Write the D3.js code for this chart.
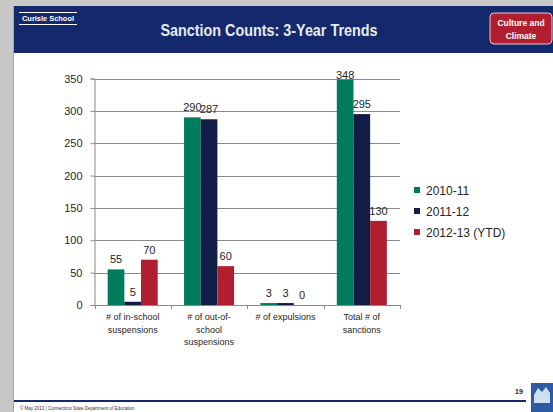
<!DOCTYPE html>
<html>
<head>
	<meta charset="UTF-8">
	<title>Sanction Counts: 3-Year Trends</title>
	<script src="https://cdn.jsdelivr.net/npm/d3@7"></script>
	<style>
		body {
			padding: 0;
			margin: 0;
			background: #c8c8c8;
		}
		text {
			font-family: "Liberation Sans", Arial, sans-serif;
		}
	</style>
</head>
<body>
	<script>
		// chart data
		var categories = [
			["# of in-school", "suspensions"],
			["# of out-of-", "school", "suspensions"],
			["# of expulsions"],
			["Total # of", "sanctions"]
		];
		var series = ["2010-11", "2011-12", "2012-13 (YTD)"];
		var values2010 = [55, 290, 3, 348];
		var values2011 = [5, 287, 3, 295];
		var values2012 = [70, 60, 0, 130];
		var yTicks = [0, 50, 100, 150, 200, 250, 300, 350];
		var colors = ["#007b5b", "#121d47", "#b01e2f"];

		var allValues = [values2010, values2011, values2012];

		var w = 553,
			h = 412;

		var svg = d3.select("body").append("svg")
			.attr("width", w)
			.attr("height", h);

		// slide background
		svg.append("rect")
			.attr("x", 0).attr("y", 0)
			.attr("width", w).attr("height", h)
			.attr("fill", "#c8c8c8");
		svg.append("rect")
			.attr("x", 14).attr("y", 6)
			.attr("width", w - 14).attr("height", h - 6)
			.attr("fill", "#ffffff");
		svg.append("line")
			.attr("x1", 13.5).attr("x2", 13.5)
			.attr("y1", 6).attr("y2", h)
			.attr("stroke", "#a8a8a8");

		// header band
		svg.append("rect")
			.attr("x", 14).attr("y", 6)
			.attr("width", w - 14).attr("height", 47)
			.attr("fill", "#13296b");

		svg.append("text")
			.attr("x", 269).attr("y", 36)
			.attr("text-anchor", "middle")
			.attr("font-size", 16)
			.attr("font-weight", "bold")
			.attr("fill", "#e8e9f0")
			.attr("textLength", 217)
			.attr("lengthAdjust", "spacingAndGlyphs")
			.text("Sanction Counts: 3-Year Trends");

		// school name with rules
		[12.5, 24.5].forEach(function (yy) {
			svg.append("line")
				.attr("x1", 19).attr("x2", 77)
				.attr("y1", yy).attr("y2", yy)
				.attr("stroke", "#ffffff").attr("stroke-width", 1);
		});
		svg.append("text")
			.attr("x", 48).attr("y", 21)
			.attr("text-anchor", "middle")
			.attr("font-size", 7.5)
			.attr("font-weight", "bold")
			.attr("fill", "#ffffff")
			.attr("textLength", 52)
			.attr("lengthAdjust", "spacingAndGlyphs")
			.text("Curisle School");

		// red badge
		svg.append("rect")
			.attr("x", 490).attr("y", 13)
			.attr("width", 62).attr("height", 31)
			.attr("rx", 4)
			.attr("fill", "#b01e2f")
			.attr("stroke", "#e9c7cc").attr("stroke-width", 1);
		svg.append("text")
			.attr("x", 521).attr("y", 26)
			.attr("text-anchor", "middle")
			.attr("font-size", 8.5).attr("font-weight", "bold")
			.attr("fill", "#ffffff")
			.text("Culture and");
		svg.append("text")
			.attr("x", 521).attr("y", 39)
			.attr("text-anchor", "middle")
			.attr("font-size", 8.5).attr("font-weight", "bold")
			.attr("fill", "#ffffff")
			.text("Climate");

		// chart area
		var plotLeft = 94.5, plotRight = 400, plotTop = 78.5, plotBottom = 305;

		var x0 = d3.scaleBand()
			.domain(d3.range(categories.length))
			.range([plotLeft, plotRight])
			.padding(0);

		var x1 = d3.scaleBand()
			.domain(series)
			.range([0, x0.bandwidth()])
			.paddingInner(0)
			.paddingOuter(0.79);

		var y = d3.scaleLinear()
			.domain([0, 350])
			.range([plotBottom, plotTop]);

		// gridlines
		svg.append("g")
			.selectAll("line")
			.data(yTicks.slice(1))
			.join("line")
			.attr("x1", plotLeft).attr("x2", plotRight)
			.attr("y1", function (d) { return Math.round(y(d)) + 0.5; })
			.attr("y2", function (d) { return Math.round(y(d)) + 0.5; })
			.attr("stroke", "#8a8a8a");

		// y axis
		var yAxis = svg.append("g")
			.attr("transform", "translate(" + plotLeft + ",0)")
			.call(d3.axisLeft(y).tickValues(yTicks).tickSize(4).tickPadding(8));
		yAxis.select(".domain").attr("stroke", "#8a8a8a");
		yAxis.selectAll(".tick line").attr("stroke", "#8a8a8a");
		yAxis.selectAll(".tick text")
			.attr("font-family", "Liberation Sans, Arial, sans-serif")
			.attr("font-size", 11)
			.attr("fill", "#262626");

		// bars
		series.forEach(function (s, si) {
			var g = svg.append("g");
			g.selectAll("rect")
				.data(allValues[si])
				.join("rect")
				.attr("x", function (d, i) { return x0(i) + x1(s); })
				.attr("y", function (d) { return y(d); })
				.attr("width", x1.bandwidth())
				.attr("height", function (d) { return plotBottom - y(d); })
				.attr("fill", colors[si]);

			// labels above bars, kept inside the plot top like the original
			g.selectAll("text")
				.data(allValues[si])
				.join("text")
				.attr("x", function (d, i) { return x0(i) + x1(s) + x1.bandwidth() / 2; })
				.attr("y", function (d) { return Math.max(y(d) - 6, plotTop); })
				.attr("text-anchor", "middle")
				.attr("font-size", 11)
				.attr("fill", "#262626")
				.text(function (d) { return d; });
		});

		// x axis
		svg.append("line")
			.attr("x1", plotLeft).attr("x2", plotRight)
			.attr("y1", plotBottom + 0.5).attr("y2", plotBottom + 0.5)
			.attr("stroke", "#8a8a8a");
		svg.append("g")
			.selectAll("line")
			.data(d3.range(categories.length + 1))
			.join("line")
			.attr("x1", function (i) { return Math.round(plotLeft + i * x0.step()) + 0.5; })
			.attr("x2", function (i) { return Math.round(plotLeft + i * x0.step()) + 0.5; })
			.attr("y1", plotBottom).attr("y2", plotBottom + 4)
			.attr("stroke", "#8a8a8a");

		var catLabels = svg.append("g")
			.selectAll("text")
			.data(categories)
			.join("text")
			.attr("x", function (d, i) { return x0(i) + x0.bandwidth() / 2; })
			.attr("y", 320)
			.attr("text-anchor", "middle")
			.attr("font-size", 9)
			.attr("fill", "#262626");
		catLabels.selectAll("tspan")
			.data(function (d) { return d; })
			.join("tspan")
			.attr("x", function () { return d3.select(this.parentNode).attr("x"); })
			.attr("dy", function (d, i) { return i === 0 ? 0 : 12.5; })
			.text(function (d) { return d; });

		// legend
		var legend = svg.append("g")
			.selectAll("g")
			.data(series)
			.join("g")
			.attr("transform", function (d, i) { return "translate(414," + (190 + i * 21) + ")"; });
		legend.append("rect")
			.attr("x", 0).attr("y", -3)
			.attr("width", 6).attr("height", 6)
			.attr("fill", function (d, i) { return colors[i]; });
		legend.append("text")
			.attr("x", 12).attr("y", 4.5)
			.attr("font-size", 12)
			.attr("fill", "#262626")
			.text(function (d) { return d; });

		// footer
		svg.append("line")
			.attr("x1", 14).attr("x2", 526)
			.attr("y1", 401).attr("y2", 401)
			.attr("stroke", "#13296b").attr("stroke-width", 2);
		svg.append("text")
			.attr("x", 519).attr("y", 394)
			.attr("text-anchor", "middle")
			.attr("font-size", 7).attr("font-weight", "bold")
			.attr("fill", "#222222")
			.text("19");
		svg.append("text")
			.attr("x", 20).attr("y", 410)
			.attr("font-size", 4.5)
			.attr("fill", "#333333")
			.text("© May 2013 | Connecticut State Department of Education");

		// logo block
		svg.append("rect")
			.attr("x", 531).attr("y", 383)
			.attr("width", 22).attr("height", 29)
			.attr("fill", "#2d5aa3");
		svg.append("path")
			.attr("d", "M534,395 L538,388 L542,392 L546,387 L550,393 L550,403 L534,403 Z")
			.attr("fill", "#cfe0f5");
	</script>
</body>
</html>
